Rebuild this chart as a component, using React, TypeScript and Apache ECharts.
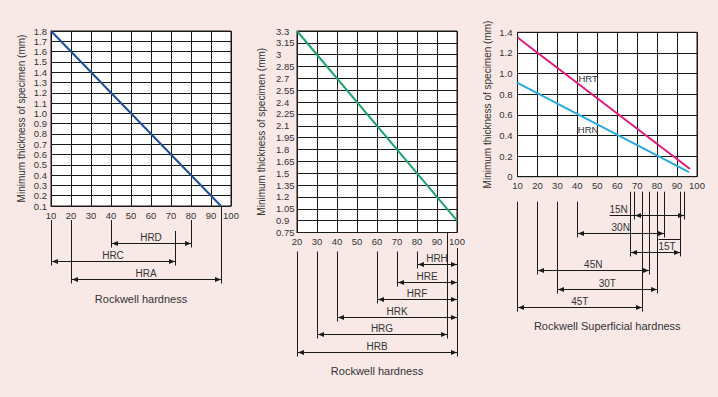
import { useEffect, useRef } from "react";
import * as echarts from "echarts";

// ---------- Chart 1: Rockwell hardness (HRA / HRC / HRD) ----------
const c1Hardness = [10, 95];
const c1Thickness = [1.8, 0.1];
const c1RangeNames = ["HRD", "HRC", "HRA"];
const c1RangeStart = [40, 10, 20];
const c1RangeEnd = [80, 72, 95];

// ---------- Chart 2: Rockwell hardness (HRB ... HRH) ----------
const c2Hardness = [20, 100];
const c2Thickness = [3.3, 0.9];
const c2RangeNames = ["HRH", "HRE", "HRF", "HRK", "HRG", "HRB"];
const c2RangeStart = [80, 70, 60, 40, 30, 20];
const c2RangeEnd = [100, 100, 100, 100, 95, 100];

// ---------- Chart 3: Rockwell superficial hardness ----------
const c3HrtHardness = [10, 96.5];
const c3HrtThickness = [1.35, 0.075];
const c3HrnHardness = [10, 96];
const c3HrnThickness = [0.91, 0.045];
const c3RangeNames = ["15N", "30N", "15T", "45N", "30T", "45T"];
const c3RangeStart = [68.5, 40, 66.5, 20, 30, 10];
const c3RangeEnd = [93.5, 83.5, 91.5, 76, 80, 72.5];

const BG = "#f8e9e7";
const INK = "#1a1a1a";
const TXT = "#333333";
const FONT = "'Liberation Sans', Arial, sans-serif";

const crisp = (v: number) => Math.round(v - 0.5) + 0.5;

type RangeLayout = {
  rowStart: number;
  rowGap: number;
  defaultTop: number;
  tops: Record<string, number>;
  labelAt?: Record<string, number>;
  underline?: string[];
  overline?: string[];
};

function rangeSeries(
  idx: number,
  names: string[],
  starts: number[],
  ends: number[],
  yMin: number,
  L: RangeLayout
) {
  return {
    type: "custom",
    xAxisIndex: idx,
    yAxisIndex: idx,
    silent: true,
    clip: false,
    data: names.map((_, i) => [starts[i], ends[i], yMin]),
    encode: { x: [0, 1], y: 2 },
    renderItem: (params: any, api: any) => {
      const i = params.dataIndex;
      const s = api.value(0);
      const e = api.value(1);
      const p1 = api.coord([s, yMin]);
      const p2 = api.coord([e, yMin]);
      const base = p1[1];
      const y = crisp(base + L.rowStart + i * L.rowGap);
      const x1 = crisp(p1[0]);
      const x2 = crisp(p2[0]);
      const topOf = (v: number) =>
        base + (L.tops[String(v)] !== undefined ? L.tops[String(v)] : L.defaultTop);
      const stroke = { stroke: INK, lineWidth: 1 };
      const name = names[i];
      const anchor = L.labelAt && L.labelAt[name] !== undefined ? L.labelAt[name] : (s + e) / 2;
      const lx = api.coord([anchor, yMin])[0];
      const children: any[] = [
        { type: "line", shape: { x1, y1: topOf(s), x2: x1, y2: y + 4 }, style: stroke },
        { type: "line", shape: { x1: x2, y1: topOf(e), x2: x2, y2: y + 4 }, style: stroke },
        { type: "line", shape: { x1, y1: y, x2, y2: y }, style: stroke },
        {
          type: "polygon",
          shape: { points: [[x1 + 0.5, y], [x1 + 6.5, y - 2.5], [x1 + 6.5, y + 2.5]] },
          style: { fill: INK },
        },
        {
          type: "polygon",
          shape: { points: [[x2 - 0.5, y], [x2 - 6.5, y - 2.5], [x2 - 6.5, y + 2.5]] },
          style: { fill: INK },
        },
        {
          type: "text",
          style: {
            text: name,
            x: lx,
            y: y - 6,
            align: "center",
            verticalAlign: "middle",
            fill: TXT,
            fontSize: 10,
            fontFamily: FONT,
          },
        },
      ];
      if (L.underline && L.underline.includes(name)) {
        children.push({ type: "line", shape: { x1: lx - 9, y1: y, x2: x1, y2: y }, style: stroke });
      }
      if (L.overline && L.overline.includes(name)) {
        children.push({
          type: "line",
          shape: { x1: crisp(lx - 9), y1: y - 13, x2: x2, y2: y - 13 },
          style: stroke,
        });
      }
      return { type: "group", children };
    },
  };
}

function xAxis(idx: number, min: number, nameGap: number, name: string) {
  return {
    type: "value",
    gridIndex: idx,
    min,
    max: 100,
    interval: 10,
    name,
    nameLocation: "middle",
    nameGap,
    nameTextStyle: { color: TXT, fontSize: 11, fontFamily: FONT },
    axisLine: { show: true, lineStyle: { color: INK, width: 1 } },
    axisTick: { show: false },
    axisLabel: { color: TXT, fontSize: 9.5, fontFamily: FONT, margin: 4 },
    splitLine: { show: true, lineStyle: { color: INK, width: 1 } },
  };
}

function yAxis(
  idx: number,
  min: number,
  max: number,
  interval: number,
  nameGap: number,
  fmt: (v: number) => string,
  labelExtra: any = {}
) {
  return {
    type: "value",
    gridIndex: idx,
    min,
    max,
    interval,
    name: "Minimum thickness of specimen (mm)",
    nameLocation: "middle",
    nameRotate: 90,
    nameGap,
    nameTextStyle: { color: TXT, fontSize: 10, fontFamily: FONT },
    axisLine: { show: true, lineStyle: { color: INK, width: 1 } },
    axisTick: { show: false },
    axisLabel: { color: TXT, fontSize: 9.5, fontFamily: FONT, margin: 4, formatter: fmt, ...labelExtra },
    splitLine: { show: true, lineStyle: { color: INK, width: 1 } },
  };
}

export default function App() {
  const ref = useRef<HTMLDivElement>(null);

  useEffect(() => {
    if (!ref.current) return;
    const chart = echarts.init(ref.current, undefined, { renderer: "svg" });

    const gridBase = {
      show: true,
      backgroundColor: "#ffffff",
      borderColor: INK,
      borderWidth: 1,
      containLabel: false,
    };

    const option: any = {
      animation: false,
      backgroundColor: BG,
      textStyle: { fontFamily: FONT },
      grid: [
        { ...gridBase, left: 51, top: 31, width: 180, height: 175 },
        { ...gridBase, left: 297, top: 31, width: 160, height: 201.5 },
        { ...gridBase, left: 517.5, top: 32.3, width: 179.5, height: 144.4 },
      ],
      xAxis: [
        xAxis(0, 10, 87, "Rockwell hardness"),
        xAxis(1, 20, 133, "Rockwell hardness"),
        xAxis(2, 10, 144, "Rockwell Superficial hardness"),
      ],
      yAxis: [
        yAxis(0, 0.1, 1.8, 0.1, 25, (v: number) => v.toFixed(1)),
        yAxis(1, 0.75, 3.3, 0.15, 31, (v: number) => String(Math.round(v * 100) / 100), {
          align: "left",
          margin: 21,
        }),
        yAxis(2, 0, 1.4, 0.2, 25, (v: number) => (Math.abs(v) < 1e-9 ? "0" : v.toFixed(1)), {
          margin: 5,
        }),
      ],
      series: [
        {
          type: "line",
          xAxisIndex: 0,
          yAxisIndex: 0,
          data: c1Hardness.map((h, i) => [h, c1Thickness[i]]),
          showSymbol: false,
          lineStyle: { color: "#1c4f9c", width: 2 },
          itemStyle: { color: "#1c4f9c" },
          z: 5,
        },
        {
          type: "line",
          xAxisIndex: 1,
          yAxisIndex: 1,
          data: c2Hardness.map((h, i) => [h, c2Thickness[i]]),
          showSymbol: false,
          lineStyle: { color: "#1fa56c", width: 2 },
          itemStyle: { color: "#1fa56c" },
          z: 5,
        },
        {
          type: "line",
          name: "HRT",
          xAxisIndex: 2,
          yAxisIndex: 2,
          data: c3HrtHardness.map((h, i) => [h, c3HrtThickness[i]]),
          showSymbol: false,
          lineStyle: { color: "#e5197c", width: 2 },
          itemStyle: { color: "#e5197c" },
          z: 5,
          markPoint: {
            silent: true,
            symbol: "circle",
            symbolSize: 1,
            itemStyle: { color: "rgba(0,0,0,0)" },
            label: { show: true, position: "inside", color: TXT, fontSize: 9.5, fontFamily: FONT, formatter: "HRT" },
            data: [{ coord: [45.4, 0.95] }],
          },
        },
        {
          type: "line",
          name: "HRN",
          xAxisIndex: 2,
          yAxisIndex: 2,
          data: c3HrnHardness.map((h, i) => [h, c3HrnThickness[i]]),
          showSymbol: false,
          lineStyle: { color: "#2aaae2", width: 2 },
          itemStyle: { color: "#2aaae2" },
          z: 5,
          markPoint: {
            silent: true,
            symbol: "circle",
            symbolSize: 1,
            itemStyle: { color: "rgba(0,0,0,0)" },
            label: { show: true, position: "inside", color: TXT, fontSize: 9.5, fontFamily: FONT, formatter: "HRN" },
            data: [{ coord: [45.4, 0.46] }],
          },
        },
        rangeSeries(0, c1RangeNames, c1RangeStart, c1RangeEnd, 0.1, {
          rowStart: 37.5,
          rowGap: 18,
          defaultTop: 14,
          tops: { "72": 25, "95": 0 },
        }),
        rangeSeries(1, c2RangeNames, c2RangeStart, c2RangeEnd, 0.75, {
          rowStart: 32,
          rowGap: 17.6,
          defaultTop: 19,
          tops: { "100": 16, "95": 0 },
        }),
        rangeSeries(2, c3RangeNames, c3RangeStart, c3RangeEnd, 0, {
          rowStart: 38.3,
          rowGap: 18.5,
          defaultTop: 15,
          tops: { "10": 25, "20": 25, "30": 25, "40": 25 },
          labelAt: { "15N": 60.7, "15T": 85 },
          underline: ["15N"],
          overline: ["15T"],
        }),
      ],
    };

    chart.setOption(option);
    return () => chart.dispose();
  }, []);

  return (
    <div
      ref={ref}
      style={{ position: "fixed", left: 0, top: 0, width: 718, height: 397, background: BG }}
    />
  );
}
